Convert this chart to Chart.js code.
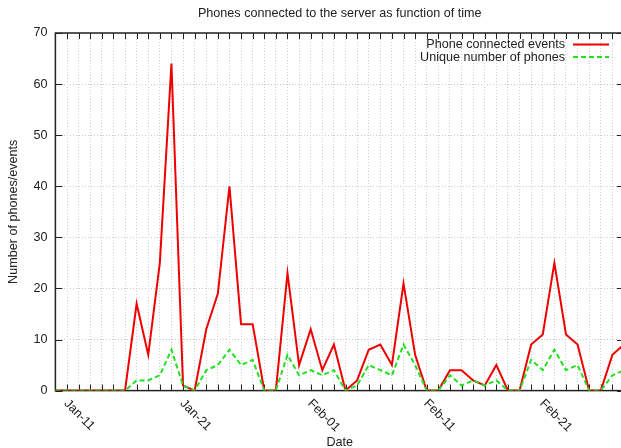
<!DOCTYPE html>
<html lang="en">
<head>
    <meta charset="UTF-8">
    <title>Phones connected to the server as function of time</title>
    <script src="https://cdn.jsdelivr.net/npm/chart.js"></script>
    <style>
        body { margin: 0; padding: 0; background: #fff; overflow: hidden; }
        canvas { display: block; }
    </style>
</head>
<body>
    <canvas id="phoneChart" width="640" height="448"></canvas>
    <script>
        // one entry per day
        const dates = [
            'Jan-10','Jan-11','Jan-12','Jan-13','Jan-14','Jan-15','Jan-16','Jan-17','Jan-18','Jan-19',
            'Jan-20','Jan-21','Jan-22','Jan-23','Jan-24','Jan-25','Jan-26','Jan-27','Jan-28','Jan-29',
            'Jan-30','Jan-31','Feb-01','Feb-02','Feb-03','Feb-04','Feb-05','Feb-06','Feb-07','Feb-08',
            'Feb-09','Feb-10','Feb-11','Feb-12','Feb-13','Feb-14','Feb-15','Feb-16','Feb-17','Feb-18',
            'Feb-19','Feb-20','Feb-21','Feb-22','Feb-23','Feb-24','Feb-25','Feb-26','Feb-27','Feb-28'
        ];
        const connectedEvents = [0,0,0,0,0,0,0,17,7,25,64,1,0,12,19,40,13,13,0,0,23,5,12,4,9,0,2,8,9,5,21,7,0,0,4,4,2,1,5,0,0,9,11,25,11,9,0,0,7,9];
        const uniquePhones    = [0,0,0,0,0,0,0,2,2,3,8,1,0,4,5,8,5,6,0,0,7,3,4,3,4,0,1,5,4,3,9,5,0,0,3,1,2,1,2,0,0,6,4,8,4,5,0,0,3,4];
        const xTickLabels = ['Jan-11','Jan-21','Feb-01','Feb-11','Feb-21'];
        const yTicks = [0,10,20,30,40,50,60,70];

        const FONT = '"Liberation Sans", Arial, sans-serif';
        const TXT = '#222';

        // gnuplot look: box border, inward ticks, title, rotated dates, legend inside
        const gnuplotFrame = {
            id: 'gnuplotFrame',
            beforeDatasetsDraw(chart) {
                const { ctx, chartArea: a, scales: { x, y } } = chart;
                ctx.save();
                ctx.strokeStyle = '#222';
                ctx.lineWidth = 1;
                ctx.beginPath();
                x.ticks.forEach((t, i) => {
                    const px = Math.round(x.getPixelForTick(i)) + 0.5;
                    ctx.moveTo(px, a.bottom); ctx.lineTo(px, a.bottom - 6);
                    ctx.moveTo(px, a.top); ctx.lineTo(px, a.top + 6);
                });
                y.ticks.forEach((t, i) => {
                    const py = Math.round(y.getPixelForTick(i)) + 0.5;
                    ctx.moveTo(a.left, py); ctx.lineTo(a.left + 7, py);
                    ctx.moveTo(a.right, py); ctx.lineTo(a.right - 7, py);
                });
                ctx.stroke();
                ctx.lineWidth = 1.5;
                ctx.strokeRect(a.left, a.top, a.width, a.height);
                ctx.restore();
            },
            afterDraw(chart) {
                const { ctx, chartArea: a, scales: { x } } = chart;
                ctx.save();
                ctx.fillStyle = TXT;
                ctx.font = '12.6px ' + FONT;
                // title
                ctx.textAlign = 'center';
                ctx.textBaseline = 'middle';
                ctx.fillText('Phones connected to the server as function of time', (a.left + a.right) / 2, 14);
                // date labels, rotated by -45 like gnuplot
                xTickLabels.forEach(lbl => {
                    const px = x.getPixelForValue(dates.indexOf(lbl));
                    ctx.save();
                    ctx.translate(px - 1, a.bottom + 11);
                    ctx.rotate(Math.PI / 4);
                    ctx.textAlign = 'left';
                    ctx.textBaseline = 'middle';
                    ctx.fillText(lbl, 0, 0);
                    ctx.restore();
                });
                // legend
                ctx.textAlign = 'right';
                ctx.textBaseline = 'middle';
                chart.data.datasets.forEach((ds, i) => {
                    const ly = a.top + 11.5 + i * 12.6;
                    ctx.fillStyle = TXT;
                    ctx.fillText(ds.label, a.right - 59, ly);
                    ctx.strokeStyle = ds.borderColor;
                    ctx.lineWidth = ds.borderWidth;
                    ctx.setLineDash(ds.borderDash || []);
                    ctx.beginPath();
                    ctx.moveTo(a.right - 51, ly);
                    ctx.lineTo(a.right - 15, ly);
                    ctx.stroke();
                    ctx.setLineDash([]);
                });
                ctx.restore();
            }
        };

        const ctx = document.getElementById('phoneChart').getContext('2d');
        new Chart(ctx, {
            type: 'line',
            data: {
                labels: dates,
                datasets: [
                    {
                        label: 'Phone connected events',
                        data: connectedEvents,
                        borderColor: '#ee0000',
                        borderWidth: 2,
                        pointRadius: 0,
                        tension: 0,
                        fill: false,
                        order: 1
                    },
                    {
                        label: 'Unique number of phones',
                        data: uniquePhones,
                        borderColor: '#22e022',
                        borderWidth: 2,
                        borderDash: [5, 3],
                        pointRadius: 0,
                        tension: 0,
                        fill: false,
                        order: 0
                    }
                ]
            },
            options: {
                responsive: false,
                devicePixelRatio: 1,
                animation: false,
                layout: { padding: { top: 33, right: 16, left: 0, bottom: 0 } },
                plugins: {
                    legend: { display: false },
                    tooltip: { enabled: false }
                },
                scales: {
                    x: {
                        type: 'category',
                        offset: false,
                        grid: { color: '#cccccc', lineWidth: 1, drawTicks: false, offset: false },
                        border: { display: false, dash: [1, 2] },
                        ticks: { display: false, autoSkip: false },
                        title: {
                            display: true,
                            text: 'Date',
                            color: TXT,
                            font: { family: FONT, size: 12.6 },
                            padding: { top: 0, bottom: -2 }
                        },
                        afterFit: s => { s.height = 57.4; }
                    },
                    y: {
                        min: 0,
                        max: 70,
                        afterBuildTicks: s => { s.ticks = yTicks.map(v => ({ value: v })); },
                        grid: { color: '#cccccc', lineWidth: 1, drawTicks: false },
                        border: { display: false, dash: [1, 2] },
                        ticks: {
                            color: TXT,
                            padding: 8,
                            font: { family: FONT, size: 12.6 }
                        },
                        title: {
                            display: true,
                            text: 'Number of phones/events',
                            color: TXT,
                            font: { family: FONT, size: 12.6 },
                            padding: { top: 6, bottom: 0 }
                        },
                        afterFit: s => { s.width = 55.4; }
                    }
                }
            },
            plugins: [gnuplotFrame]
        });
    </script>
</body>
</html>
